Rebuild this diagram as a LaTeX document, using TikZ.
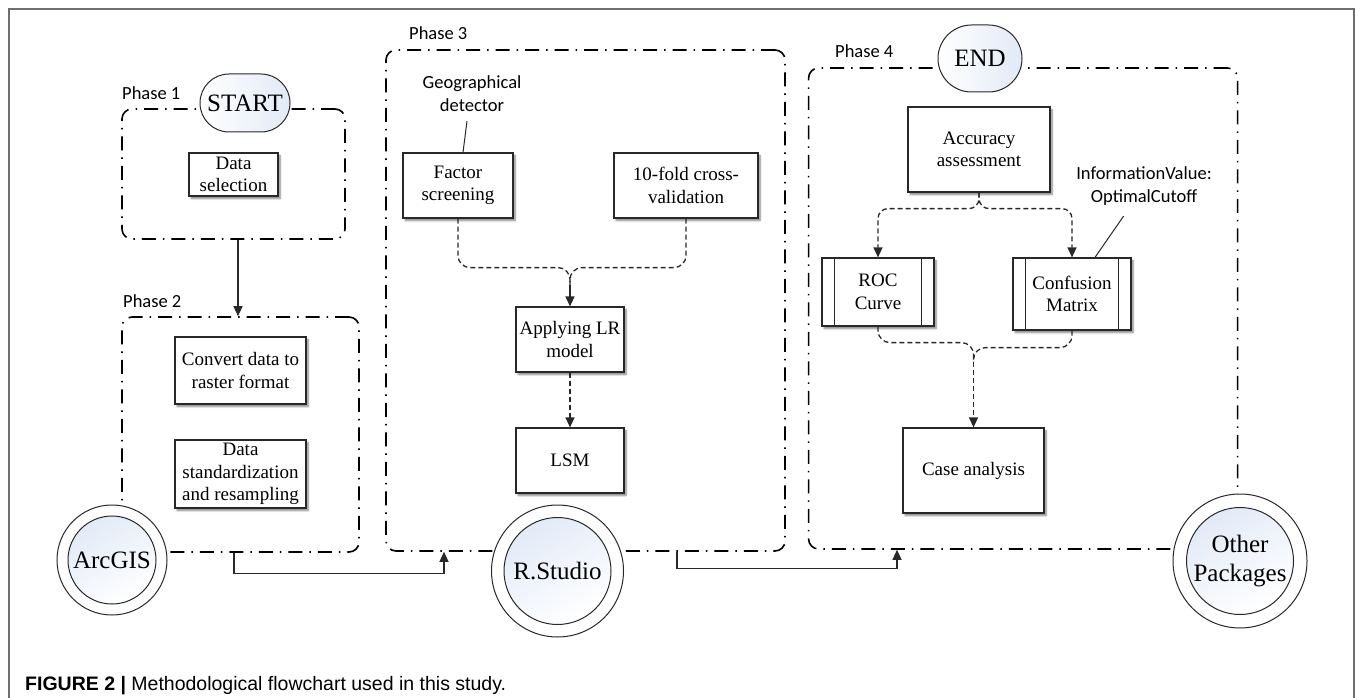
\documentclass[tikz,border=0pt]{standalone}
\usepackage{fontspec}
\setmainfont{Liberation Serif}
\newfontfamily\labfont{Carlito}
\newfontfamily\capfont{Liberation Sans}
\usetikzlibrary{shapes.misc,shadows.blur,arrows.meta,calc}
\definecolor{gradblue}{RGB}{226,234,247}
\definecolor{linegray}{RGB}{40,40,40}
\definecolor{framegray}{RGB}{110,110,110}
\begin{document}
\begin{tikzpicture}[x=1pt,y=-1pt,
  box/.style={draw=linegray, line width=1.2pt, fill=white, align=center, inner sep=1pt,
    font=\fontsize{19}{22.5}\selectfont,
    blur shadow={shadow xshift=2pt,shadow yshift=-2.5pt,shadow blur steps=6,shadow opacity=50}},
  phase/.style={draw=black, line width=1.6pt, dash pattern=on 14pt off 7pt on 1.5pt off 7pt,
    rounded corners=10pt, inner sep=0pt},
  term/.style={rounded rectangle, draw=linegray, line width=1pt, left color=white, right color=gradblue,
    font=\fontsize{25}{29}\selectfont, inner sep=0pt},
  ring/.style={circle, draw=linegray, line width=1pt, fill=white, inner sep=0pt},
  core/.style={circle, draw=linegray, line width=1pt, top color=gradblue, bottom color=white,
    shading angle=30, font=\fontsize{25}{29}\selectfont, align=center, inner sep=0pt},
  lab/.style={font=\labfont\fontsize{18.5}{23}\selectfont, align=center, inner sep=0pt},
  conn/.style={draw=linegray, line width=1.3pt},
  arr/.style={conn, -{Triangle[length=10pt,width=9pt]}},
  dl/.style={conn, dash pattern=on 5pt off 3pt},
  leader/.style={draw=linegray, line width=1pt},
]
\useasboundingbox (0,0) rectangle (1355,698);
\draw[framegray, line width=1.3pt] (9,698) -- (9,9) -- (1354,9) -- (1354,698);

% phase boxes
\node[phase, minimum width=223pt, minimum height=130pt] (P1) at (233.5,174) {};
\node[phase, minimum width=237pt, minimum height=235pt] (P2) at (240.5,434.5) {};
\node[phase, minimum width=399pt, minimum height=501pt] (P3) at (585.5,300.5) {};
\node[phase, minimum width=429pt, minimum height=481pt] (P4) at (1023.1,308.5) {};

\node[lab, anchor=west] (L1) at (122,93) {Phase 1};
\node[lab, anchor=west] (L2) at (123,301) {Phase 2};
\node[lab, anchor=west] (L3) at (409,33) {Phase 3};
\node[lab, anchor=west] (L4) at (835,51) {Phase 4};

% terminals
\node[term, minimum width=90pt, minimum height=58pt] (start) at (245,103) {START};
\node[term, minimum width=84pt, minimum height=67pt] (endn) at (980,58.5) {END};

% boxes
\node[box, minimum width=89pt, minimum height=43pt] (ds) at (233.5,174.5) {Data\\selection};
\node[box, minimum width=131pt, minimum height=67pt] (cv) at (240.5,370.5) {Convert data to\\raster format};
\node[box, minimum width=131pt, minimum height=68pt, inner ysep=0pt] (std) at (240.5,474) {Data\\standardization\\and resampling};

\node[box, minimum width=110pt, minimum height=65pt] (fs) at (458,185.5) {Factor\\screening};
\node[box, minimum width=144pt, minimum height=65pt] (tf) at (686,185.5) {10-fold cross-\\validation};
\node[box, minimum width=108pt, minimum height=65pt] (alr) at (570,339.5) {Applying LR\\model};
\node[box, minimum width=108pt, minimum height=65pt] (lsm) at (570,460.5) {LSM};

\node[box, minimum width=142pt, minimum height=85pt] (acc) at (979,149.5) {Accuracy\\assessment};
\node[box, minimum width=112pt, minimum height=68pt] (roc) at (878,292) {ROC\\Curve};
\node[box, minimum width=118pt, minimum height=72pt] (cm) at (1072,294) {Confusion\\Matrix};
\node[box, minimum width=141pt, minimum height=85pt] (case) at (973.5,470.5) {Case analysis};

\foreach \n in {roc,cm}{
  \draw[draw=linegray, line width=1.2pt] ([xshift=13pt]\n.north west) -- ([xshift=13pt]\n.south west);
  \draw[draw=linegray, line width=1.2pt] ([xshift=-13pt]\n.north east) -- ([xshift=-13pt]\n.south east);
}

\node[lab] (gd) at (472,93.5) {Geographical\\detector};
\node[lab] (iv) at (1144,186.5) {InformationValue:\\OptimalCutoff};

% software circles
\node[ring, minimum size=110pt] (arcgis) at (112,560) {};
\node[core, minimum size=88pt] (arcgisIn) at (112,560) {ArcGIS};
\node[ring, minimum size=132pt] (rstudio) at (557.5,571) {};
\node[core, minimum size=107pt] (rstudioIn) at (557.5,571) {R.Studio};
\node[ring, minimum size=134pt] (other) at (1240,561) {};
\node[core, minimum size=107pt] (otherIn) at (1240,561) {Other\\Packages};

% connectors
\draw[arr] ([xshift=4.5pt]P1.south) -- ([xshift=4.5pt]P1.south |- P2.north);
\draw[arr] ([xshift=-6.5pt]P2.south) -- ++(0,21) -| ([xshift=-141.5pt]P3.south);
\draw[arr] ([xshift=91.5pt]P3.south) -- ++(0,17) -| ([xshift=-126.1pt]P4.south);

\coordinate (j3) at (570,285);
\draw[dl, rounded corners=12pt] (fs.south) -- ++(0,49) -| (j3);
\draw[dl, rounded corners=12pt] (tf.south) -- ++(0,49) -| (j3);
\draw[arr] (j3) -- (alr.north);
\draw[arr, dash pattern=on 5pt off 3pt] (alr.south) -- (lsm.north);

\draw[arr, dash pattern=on 5pt off 3pt, rounded corners=10pt] (acc.south) -- ++(0,16) -| (roc.north);
\draw[arr, dash pattern=on 5pt off 3pt, rounded corners=10pt] (acc.south) -- ++(0,16) -| (cm.north);

\coordinate (j4) at (973.5,362);
\draw[dl, rounded corners=12pt] (roc.south) -- ++(0,16) -| (j4);
\draw[dl, rounded corners=12pt] (cm.south) -- ++(0,17) -| (j4);
\draw[arr, dash pattern=on 5pt off 3pt] (j4) -- (case.north);

% leader lines
\draw[leader] ([xshift=-5pt,yshift=-9.5pt]gd.south) -- ([xshift=5pt]fs.north);
\draw[leader] ([xshift=-20.4pt,yshift=-10pt]iv.south) -- ([xshift=23pt]cm.north);

% caption
\node[anchor=base west, inner sep=0pt, font=\capfont\fontsize{19.5}{23}\selectfont] (cap) at (25,690)
  {\textbf{FIGURE 2 |} Methodological flowchart used in this study.};
\end{tikzpicture}
\end{document}
